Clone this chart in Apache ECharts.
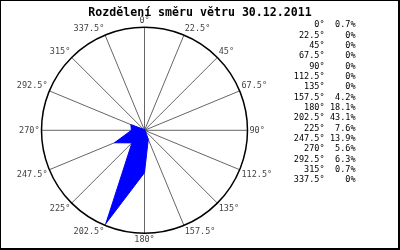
<!DOCTYPE html>
<html><head><meta charset="utf-8">
<script src="https://cdn.jsdelivr.net/npm/echarts@6/dist/echarts.min.js"></script>
<style>
html,body{margin:0;padding:0;background:#fff;}
#c{position:absolute;left:0;top:0;width:400px;height:250px;}
#b{position:absolute;left:0;top:0;width:400px;height:250px;box-sizing:border-box;border-left:1px solid #000;border-top:1px solid #000;border-right:2px solid #000;border-bottom:2px solid #000;pointer-events:none;}
</style></head>
<body><div id="c"></div><div id="b"></div>
<script>
const titleText = 'Rozdělení směru větru 30.12.2011';
const directions = [0, 22.5, 45, 67.5, 90, 112.5, 135, 157.5, 180, 202.5, 225, 247.5, 270, 292.5, 315, 337.5];
const percents = [0.7, 0, 0, 0, 0, 0, 0, 4.2, 18.1, 43.1, 7.6, 13.9, 5.6, 6.3, 0.7, 0];

const FONT = 'DejaVu Sans Mono';
const seriesData = directions.map((d, i) => [percents[i], d]);
seriesData.push([percents[0], 360]);

const graphics = [];
directions.forEach((d, i) => {
  const y = 25 + 10.35 * i;
  graphics.push({type:'text', left:null, x:324.5, y:y, style:{text:d + '°', align:'right', verticalAlign:'middle', font:'8.5px "' + FONT + '"', fill:'#000'}});
  graphics.push({type:'text', x:355.5, y:y, style:{text:percents[i] + '%', align:'right', verticalAlign:'middle', font:'8.5px "' + FONT + '"', fill:'#000'}});
});

const chart = echarts.init(document.getElementById('c'), null, {renderer:'canvas'});
chart.setOption({
  animation:false,
  backgroundColor:'#fff',
  title:{text:titleText, left:'center', top:2, textStyle:{fontFamily:FONT, fontWeight:'bold', fontSize:11.6, color:'#000'}},
  polar:{center:[144.5,130.3], radius:103},
  angleAxis:{type:'value', min:0, max:360, interval:22.5, startAngle:90, clockwise:true,
    axisLine:{show:true, lineStyle:{color:'#000', width:1.5}},
    axisTick:{show:false},
    splitLine:{show:true, lineStyle:{color:'#666', width:1}},
    axisLabel:{show:true, margin:2, color:'#444', fontFamily:FONT, fontSize:8.5,
      formatter:function(v){ return v >= 360 ? '' : v + '°'; }}
  },
  radiusAxis:{type:'value', min:0, max:44, axisLine:{show:false}, axisTick:{show:false}, axisLabel:{show:false}, splitLine:{show:false}},
  series:[{type:'line', coordinateSystem:'polar', data:seriesData, symbol:'none', smooth:false,
    lineStyle:{color:'#0000ff', width:1}, areaStyle:{color:'#0000ff', opacity:1}, z:3}],
  graphic:graphics
});
</script></body></html>
